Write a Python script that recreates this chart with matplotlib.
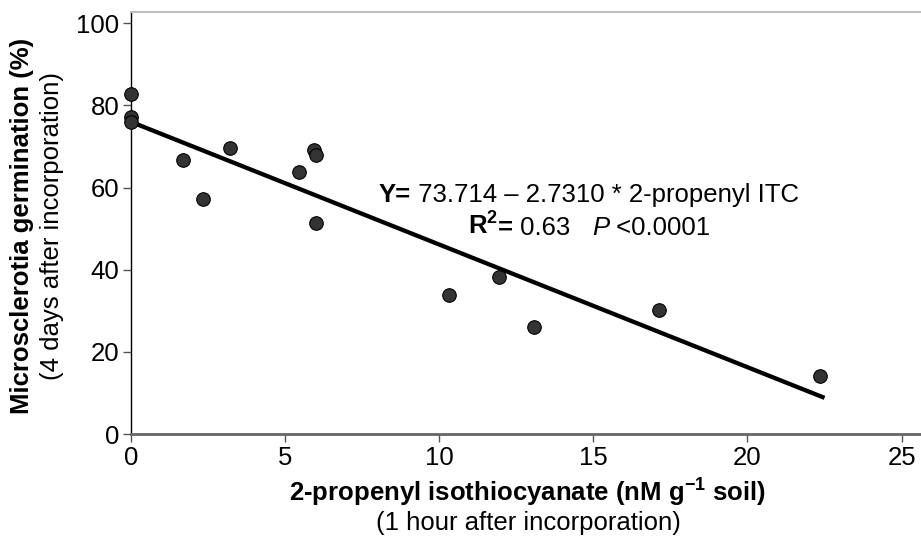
import matplotlib
matplotlib.use("Agg")
import matplotlib.pyplot as plt

plt.rcParams['font.family'] = ['Liberation Sans', 'DejaVu Sans']
plt.rcParams['mathtext.fontset'] = 'custom'
plt.rcParams['mathtext.rm'] = 'Liberation Sans'
plt.rcParams['mathtext.bf'] = 'Liberation Sans:bold'
plt.rcParams['mathtext.it'] = 'Liberation Sans:italic'

# Data
itc_conc = [0.0, 0.0, 0.0, 1.70, 2.35, 3.21, 5.46, 5.94, 6.00, 6.00,
            10.33, 11.94, 13.07, 17.14, 22.35]
germination = [82.7, 77.3, 75.9, 66.6, 57.2, 69.6, 63.7, 69.2, 68.0, 51.3,
               33.8, 38.2, 26.1, 30.2, 14.1]
fit_x = [0.0, 22.5]
fit_y = [76.0, 8.8]
x_ticks = [0, 5, 10, 15, 20, 25]
y_ticks = [0, 20, 40, 60, 80, 100]

FS = 18.5
W, H = 921, 546

fig = plt.figure(figsize=(W/100, H/100), dpi=100)
ax = fig.add_axes([131/W, 1-434/H, 1-131/W, (434-12)/H])

ax.plot(fit_x, fit_y, color='black', lw=3.1, solid_capstyle='butt', zorder=2)
ax.scatter(itc_conc, germination, s=95, color='#333333', edgecolor='black',
           linewidth=0.8, zorder=3, clip_on=False)

ax.set_xlim(0, 25.63)
ax.set_ylim(0, 102.75)
ax.set_xticks(x_ticks)
ax.set_yticks(y_ticks)
ax.tick_params(axis='both', labelsize=FS, length=6, width=1, color='#555555',
               direction='out', pad=2.5)

ax.spines['left'].set_color('black')
ax.spines['left'].set_linewidth(1.0)
ax.spines['bottom'].set_color('#666666')
ax.spines['bottom'].set_linewidth(2.0)
ax.spines['top'].set_color('#c0c0c0')
ax.spines['top'].set_linewidth(1.5)
ax.spines['right'].set_visible(False)


def chained_line(pieces, center_px, baseline_px):
    """pieces: list of (text, weight, style). Draw left to right on one baseline."""
    first_txt, w0, s0 = pieces[0]
    t0 = fig.text(0, 1 - baseline_px/H, first_txt, fontsize=FS, fontweight=w0,
                  fontstyle=s0, ha='left', va='baseline')
    objs = [t0]
    prev = t0
    for txt, w, s in pieces[1:]:
        t = fig.text(0, 0, '', fontsize=FS)
        t.remove()
        t = ax.annotate(txt, xy=(1, 0), xycoords=prev, fontsize=FS,
                        fontweight=w, fontstyle=s, ha='left', va='bottom',
                        annotation_clip=False)
        objs.append(t)
        prev = t
    return objs


line1 = chained_line([('Y=', 'bold', 'normal'),
                      (' 73.714 – 2.7310 * 2-propenyl ITC', 'normal', 'normal')],
                     589, 202)
line2 = chained_line([(r'$\mathbf{R^2}$', 'bold', 'normal'),
                      ('=', 'bold', 'normal'),
                      (' 0.63   ', 'normal', 'normal'),
                      ('P', 'normal', 'italic'),
                      (' <0.0001', 'normal', 'normal')],
                     589, 235)

# center each chained line horizontally
fig.canvas.draw()
renderer = fig.canvas.get_renderer()
for objs, center, base in ((line1, 589, 202), (line2, 589, 235)):
    x0 = objs[0].get_window_extent(renderer).x0
    x1 = objs[-1].get_window_extent(renderer).x1
    width = x1 - x0
    objs[0].set_position(((center - width/2)/W, 1 - base/H))

# x labels
fig.text(528/W, 1-493/H, r'2-propenyl isothiocyanate (nM g$^{\mathbf{-1}}$ soil)',
         ha='center', va='center', fontsize=FS, fontweight='bold')
fig.text(528/W, 1-523/H, '(1 hour after incorporation)',
         ha='center', va='center', fontsize=FS)

# y labels
fig.text(22/W, 1-226/H, 'Microsclerotia germination (%)', rotation=90,
         ha='center', va='center', fontsize=FS, fontweight='bold')
fig.text(52/W, 1-226/H, '(4 days after incorporation)', rotation=90,
         ha='center', va='center', fontsize=FS)

fig.savefig('out.png', dpi=100)
